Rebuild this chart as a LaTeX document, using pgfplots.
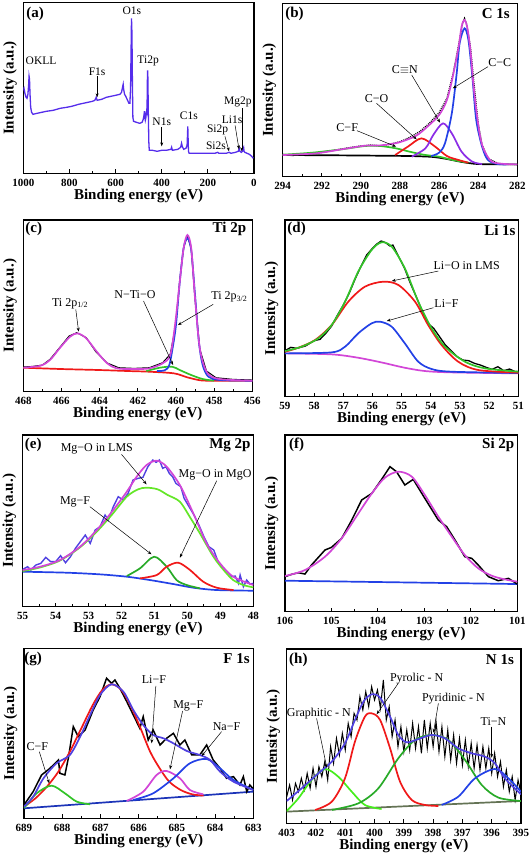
\documentclass[border=0pt]{standalone}
\usepackage{fontspec}
\setmainfont{Liberation Serif}
\usepackage{pgfplots}
\pgfplotsset{compat=1.18}
\usetikzlibrary{arrows.meta}
\definecolor{survey}{RGB}{85,45,235}
\definecolor{mag}{RGB}{210,70,215}
\definecolor{bl}{RGB}{35,65,230}
\definecolor{pur}{RGB}{140,45,230}
\definecolor{rd}{RGB}{240,25,25}
\definecolor{gr}{RGB}{50,195,40}
\definecolor{lgr}{RGB}{100,230,40}
\definecolor{dgr}{RGB}{40,170,40}
\definecolor{ind}{RGB}{80,65,225}
\definecolor{olv}{RGB}{100,115,85}
\pgfplotsset{
 xps/.style={
  scale only axis, anchor=south west, x dir=reverse,
  axis line style={line width=1.5pt},
  ytick=\empty, xtick pos=left, tick align=inside,
  major tick length=4pt, minor tick length=2.5pt,
  every tick/.style={black,line width=0.9pt},
  minor x tick num=1,
  xlabel={Binding energy (eV)}, ylabel={Intensity (a.u.)},
  label style={font=\fontsize{15}{15}\selectfont\bfseries},
  xlabel style={at={(rel axis cs:0.5,0)},anchor=north,yshift=-12pt},
  ylabel style={at={(rel axis cs:0,0.5)},anchor=south,yshift=3pt},
  xticklabel style={font=\fontsize{11}{11}\selectfont\bfseries, yshift=-2pt},
  /pgf/number format/assume math mode=true,
  /pgf/number format/1000 sep={},
 },
 c/.style={line width=1.7pt, smooth, mark=none},
 d/.style={line width=1.0pt, mark=none},
}
\tikzset{
 lab/.style={font=\fontsize{12}{13}\selectfont, inner sep=1pt},
 laba/.style={font=\fontsize{11.5}{12}\selectfont, inner sep=0.5pt},
 ttl/.style={font=\fontsize{15}{15}\selectfont\bfseries, inner sep=1pt},
 arr/.style={-{Stealth[length=4pt,width=3pt]}, line width=0.5pt},
}
\begin{document}
\begin{tikzpicture}
\useasboundingbox (0pt,0pt) rectangle (530pt,-860pt);
% ---------------- (a)
\begin{axis}[xps, at={(23.3pt,-173.3pt)}, width=230.7pt, height=170.6pt,
  xmin=0, xmax=1000, ymin=0, ymax=170.6, xtick={0,200,...,1000}]
\addplot[survey, line width=1.3pt, mark=none] coordinates {
(1000,83)(997,85)(993,80)(988,76)(984,75)(980,79)(977,88)(975,97)(973,94)(971,80)(968,66)(964,61)(958,59)(940,60)(920,61)(900,62)(870,63)(840,65)(812,66)(790,67)(760,69)(740,70)(720,71)(700,72)(690,73)(684,76)(680,73)(660,74)(640,76)(620,77)(600,78)(581,79)(574,81)(570,86)(567,89)(565,84)(561,79)(556,77)(550,74)(546,72)(542,70)(538,70)(535,85)(533,120)(531,155)(529,140)(527,90)(525,56)(522,52)(510,51)(495,50)(485,51)(480,54)(477,58)(475,62)(473,56)(471,53)(469,55)(467,62)(465,58)(463,75)(462,95)(461,103)(460,96)(458,60)(456,32)(454,23)(440,23)(420,22)(400,23)(380,23)(360,24)(357,26)(354,23)(330,24)(318,26)(314,30)(311,27)(305,24)(295,25)(290,28)(288,40)(287,47)(286,38)(284,22)(281,20)(260,20)(230,20)(200,20)(170,20)(157,21)(152,20)(120,20)(108,21)(100,20)(80,21)(68,22)(64,25)(61,22)(55,21)(50,22)(47,25)(45,26)(43,22)(40,21)(30,20)(20,19)(10,17)(3,15)};
\node[ttl] at (949,159) {(a)};
\node[laba] at (923,113) {OKLL};
\node[laba] at (680,102) {F1s};
\draw[arr] (680,97) -- (680,76);
\node[laba] at (529,163) {O1s};
\node[laba] at (459,112) {Ti2p};
\node[laba] at (400,52) {N1s};
\draw[arr] (400,46) -- (400,27);
\node[laba] at (282,58) {C1s};
\node[laba] at (70,71) {Mg2p};
\draw[arr] (53,65) -- (53,22);
\node[laba] at (95,54) {Li1s};
\draw[arr] (82,48) -- (65,24);
\node[laba] at (158,43) {Si2p};
\draw[arr] (126,37) -- (108,22);
\node[laba] at (165,28) {Si2s};
\end{axis}
% ---------------- (b)
\begin{axis}[xps, at={(282.7pt,-176.7pt)}, width=234.6pt, height=173.4pt,
  xmin=282, xmax=294, ymin=0, ymax=520, xtick={282,284,...,294}]
\addplot[c, black] coordinates {(294,65)(291,64)(289,63)(287.5,62)(286.5,60)(286,57)(285.5,52)(285,46)(284.5,41)(284,38)(283,37)(282,37)};
\addplot[d, black, densely dotted, line width=1.3pt] coordinates {(294,67)(293.5,63)(293,68)(292.5,70)(292,73)(291.5,78)(291,83)(290.5,88)(290,92)(289.5,95)(289,92)(288.5,98)(288,105)(287.5,118)(287,135)(286.5,160)(286,192)(285.6,235)(285.3,305)(285,395)(284.8,460)(284.7,475)(284.6,460)(284.4,390)(284.2,270)(284,160)(283.8,95)(283.5,55)(283,40)(282.5,37)(282,36)};
\addplot[c, gr] coordinates {(294,66)(292.5,72)(291,82)(289.8,92)(289,92)(288.2,85)(287.5,75)(286.8,66)(286,60)(285.3,50)(284.5,42)};
\addplot[c, rd] coordinates {(288.25,65)(287.6,90)(286.9,115)(286.2,90)(285.6,62)(285,50)(284.5,42)};
\addplot[c, pur] coordinates {(287.4,60)(286.7,85)(286.3,125)(285.8,160)(285.35,130)(284.85,75)(284.3,45)(283.8,38)};
\addplot[c, bl] coordinates {(286.4,62)(286,72)(285.7,100)(285.35,190)(285.1,310)(284.95,400)(284.7,445)(284.5,410)(284.3,300)(284.1,170)(283.8,90)(283.5,50)(283,38)(282.5,37)};
\addplot[c, mag] coordinates {(294,65)(292.3,70)(291,82)(289.8,93)(289,94)(288.1,102)(287.2,122)(286.6,150)(286,185)(285.6,230)(285.3,300)(285,390)(284.85,450)(284.7,470)(284.55,445)(284.4,380)(284.25,280)(284.1,200)(283.9,120)(283.7,80)(283.3,45)(282.6,38)(282,37)};
\node[ttl] at (293.4,488) {(b)};
\node[ttl] at (283.1,488) {C 1s};
\node[lab] at (282.9,342) {C−C};
\draw[arr] (283.5,330) -- (285.3,265);
\node[lab] at (287.75,320) {C$\equiv$N};
\draw[arr] (287.4,305) -- (285.95,162);
\node[lab] at (289.2,235) {C−O};
\draw[arr] (289.2,220) -- (287.15,112);
\node[lab] at (290.7,148) {C−F};
\draw[arr] (290.2,138) -- (288.2,90);
\end{axis}
% ---------------- (c)
\begin{axis}[xps, at={(23.3pt,-391.7pt)}, width=229pt, height=171.7pt,
  xmin=456, xmax=468, ymin=0, ymax=515, xtick={456,458,...,468}]
\addplot[c, rd] coordinates {(468,72)(466,68)(464,65)(462.5,62)(461.4,60)(460.1,55)(459.4,43)(458.7,34)(458,33)(456,33)};
\addplot[d, black] coordinates {(468,74)(467.5,76)(467,80)(466.6,97)(466.1,132)(465.6,167)(465.2,177)(464.7,162)(464.2,120)(463.6,86)(463,72)(462.2,70)(461.4,72)(460.7,87)(460.3,112)(460,205)(459.8,335)(459.6,432)(459.4,468)(459.2,428)(459,278)(458.75,128)(458.4,62)(457.9,42)(457,37)(456,35)};
\addplot[c, gr] coordinates {(461.55,62)(460.85,72)(460.2,75)(459.8,65)(459.2,50)(458.6,38)(458,33)};
\addplot[c, bl] coordinates {(461,62)(460.6,64)(460.35,80)(460.15,140)(460,200)(459.8,330)(459.6,430)(459.4,460)(459.2,425)(459,290)(458.8,150)(458.6,80)(458.3,45)(457.7,35)(456,33)};
\addplot[c, mag] coordinates {(468,72)(467.1,78)(466.6,95)(466.1,130)(465.55,165)(465.15,175)(464.7,160)(464.15,120)(463.6,85)(463.1,70)(462.2,68)(461.4,70)(460.7,85)(460.3,110)(460.05,200)(459.8,330)(459.6,430)(459.4,470)(459.2,430)(459,280)(458.75,130)(458.4,60)(457.9,40)(457,35)(456,33)};
\node[ttl] at (467.45,488) {(c)};
\node[ttl] at (457.2,488) {Ti 2p};
\node[lab] at (465.55,265) {Ti 2p\textsubscript{1/2}};
\draw[arr] (465.25,247) -- (465.1,180);
\node[lab] at (462.15,290) {N−Ti−O};
\draw[arr] (461.7,272) -- (460.15,80);
\node[lab] at (457.2,285) {Ti 2p\textsubscript{3/2}};
\draw[arr] (458.05,262) -- (459.9,200);
\end{axis}
% ---------------- (d)
\begin{axis}[xps, at={(285pt,-396.7pt)}, width=233.3pt, height=176.7pt,
  xmin=51, xmax=59, ymin=0, ymax=530, xtick={51,...,59}]
\addplot[c, mag] coordinates {(59,130)(57.4,127)(56.5,117)(55.7,103)(54.9,87)(54.2,77)(53.3,73)(51,70)};
\addplot[d, black, line width=1.3pt] coordinates {(59,138)(58.8,148)(58.6,145)(58.3,152)(58,168)(57.8,172)(57.6,190)(57.4,212)(57.2,245)(57,275)(56.8,310)(56.6,352)(56.4,390)(56.2,425)(56,445)(55.85,458)(55.7,467)(55.55,462)(55.4,452)(55.3,455)(55.1,420)(54.9,385)(54.7,340)(54.5,300)(54.3,258)(54.1,220)(53.9,205)(53.7,180)(53.5,155)(53.3,138)(53.1,120)(52.9,110)(52.7,108)(52.5,100)(52.3,95)(52.1,88)(51.9,82)(51.7,90)(51.5,78)(51.3,83)(51.1,75)(51,76)};
\addplot[c, bl] coordinates {(59,130)(57.4,133)(56.94,150)(56.49,190)(56.03,220)(55.74,225)(55.34,210)(54.89,160)(54.43,105)(53.97,83)(53.29,75)(51,71)};
\addplot[c, rd] coordinates {(59,135)(58.54,147)(57.97,170)(57.4,215)(56.83,285)(56.26,330)(55.63,345)(55.11,335)(54.54,285)(54.09,215)(53.63,155)(53.06,105)(52.37,80)(51,72)};
\addplot[c, gr] coordinates {(59,137)(58.43,150)(57.86,175)(57.4,215)(56.94,285)(56.49,375)(56.03,440)(55.69,463)(55.34,450)(54.89,385)(54.43,285)(53.97,205)(53.51,150)(52.83,105)(52.14,85)(51,75)};
\node[ttl] at (58.6,503) {(d)};
\node[ttl] at (51.63,500) {Li 1s};
\node[lab] at (52.77,393) {Li−O in LMS};
\draw[arr] (53.74,377) -- (55.34,347);
\node[lab] at (53.46,280) {Li−F};
\draw[arr] (53.91,267) -- (55.51,227);
\end{axis}
% ---------------- (e)
\begin{axis}[xps, at={(22.7pt,-606.7pt)}, width=230.6pt, height=171.7pt,
  xmin=48, xmax=55, ymin=0, ymax=515, xtick={48,...,55}]
\addplot[c, bl] coordinates {(55,105)(53.66,102)(52.65,97)(51.84,90)(51.14,80)(50.43,68)(49.82,57)(49.11,50)(48,48)};
\addplot[line width=1.4pt, ind, mark=none] coordinates {(55,112)(54.85,120)(54.75,110)(54.6,125)(54.45,130)(54.3,148)(54.15,135)(54.0,135)(53.85,153)(53.7,132)(53.55,150)(53.4,175)(53.25,195)(53.1,215)(52.95,190)(52.8,230)(52.65,240)(52.5,275)(52.4,260)(52.25,300)(52.1,330)(51.95,320)(51.8,340)(51.65,380)(51.5,385)(51.35,388)(51.2,420)(51.05,440)(50.95,433)(50.85,440)(50.75,415)(50.65,420)(50.55,400)(50.45,390)(50.35,370)(50.2,360)(50.1,325)(49.95,300)(49.8,275)(49.65,245)(49.5,210)(49.35,180)(49.2,170)(49.05,130)(48.9,115)(48.75,100)(48.65,90)(48.55,92)(48.45,70)(48.4,95)(48.3,60)(48.2,80)(48.1,68)(48,70)};
\addplot[c, lgr] coordinates {(55,107)(54.5,117)(53.9,137)(53.3,175)(52.8,220)(52.3,275)(51.84,330)(51.5,352)(51.24,357)(50.9,352)(50.6,335)(50.23,315)(49.9,265)(49.62,220)(49.21,150)(48.9,110)(48.61,80)(48.3,65)(48,58)};
\addplot[c, dgr] coordinates {(51.84,92)(51.44,115)(51.01,150)(50.63,120)(50.33,80)(50.02,65)(49.62,55)};
\addplot[c, rd] coordinates {(51.44,85)(50.93,95)(50.63,120)(50.28,132)(49.92,110)(49.52,75)(49.11,57)(48.6,50)};
\addplot[c, mag] coordinates {(55,110)(54.47,120)(53.87,140)(53.26,180)(52.75,230)(52.25,290)(51.84,345)(51.54,390)(51.24,425)(50.93,438)(50.63,420)(50.23,365)(49.82,280)(49.42,190)(49.01,130)(48.61,90)(48,65)};
\node[ttl] at (54.68,485) {(e)};
\node[ttl] at (48.71,485) {Mg 2p};
\node[lab] at (52.75,475) {Mg−O in LMS};
\draw[arr] (52.0,457) -- (51.24,367);
\node[lab] at (49.16,395) {Mg−O in MgO};
\draw[arr] (49.11,378) -- (50.23,147);
\node[lab] at (53.41,315) {Mg−F};
\draw[arr] (52.96,300) -- (51.09,157);
\end{axis}
% ---------------- (f)
\begin{axis}[xps, at={(285pt,-611.7pt)}, width=232.3pt, height=176.7pt,
  xmin=101, xmax=106, ymin=0, ymax=530, xtick={101,...,106}]
\addplot[c, bl] coordinates {(106,93)(101,83)};
\addplot[line width=1.5pt, black, mark=none] coordinates {(106,105)(105.86,112)(105.71,117)(105.57,113)(105.43,140)(105.14,185)(105,193)(104.78,220)(104.57,273)(104.35,335)(104.13,355)(103.92,397)(103.74,435)(103.6,420)(103.42,380)(103.24,397)(102.99,340)(102.7,275)(102.52,255)(102.34,215)(102.13,165)(101.98,160)(101.84,140)(101.62,105)(101.41,93)(101.19,100)(101,83)};
\addplot[c, mag] coordinates {(106,107)(105.57,125)(105.14,165)(104.78,220)(104.42,295)(104.13,355)(103.85,402)(103.56,420)(103.27,405)(102.99,350)(102.7,285)(102.41,225)(102.13,170)(101.84,130)(101.55,108)(101.27,97)(101,90)};
\node[ttl] at (105.75,500) {(f)};
\node[ttl] at (101.41,500) {Si 2p};
\end{axis}
% ---------------- (g)
\begin{axis}[xps, at={(24pt,-818.3pt)}, width=229.3pt, height=170pt,
  xmin=683, xmax=689, ymin=0, ymax=510, xtick={683,...,689}]
\addplot[c, bl!80!black] coordinates {(689,30)(683,80)};
\addplot[line width=1.5pt, black, mark=none] coordinates {(689,40)(688.76,80)(688.54,130)(688.32,150)(688.1,175)(688.06,135)(687.93,130)(687.84,180)(687.71,275)(687.58,245)(687.4,265)(687.19,325)(687.01,365)(686.84,420)(686.71,405)(686.62,415)(686.49,390)(686.31,350)(686.14,310)(685.97,270)(685.88,305)(685.75,235)(685.62,265)(685.44,220)(685.27,240)(685.09,255)(684.92,220)(684.79,235)(684.61,190)(684.4,190)(684.22,220)(684.05,175)(683.87,150)(683.7,120)(683.52,125)(683.35,100)(683.26,125)(683.17,80)(683.09,100)(683,88)};
\addplot[c, rd] coordinates {(689,35)(688.7,60)(688.4,95)(688.1,140)(687.8,200)(687.5,270)(687.2,340)(686.95,385)(686.71,402)(686.45,385)(686.2,335)(685.95,270)(685.7,200)(685.45,150)(685.2,110)(684.9,85)(684.6,72)(684.3,68)};
\addplot[c, gr] coordinates {(689,32)(688.93,40)(688.67,75)(688.28,98)(687.93,75)(687.62,50)(687.27,42)};
\addplot[c, mag] coordinates {(686.31,52)(685.88,80)(685.53,130)(685.27,142)(684.92,120)(684.66,85)(684.31,72)};
\addplot[c, bl] coordinates {(686.14,55)(685.62,75)(685.09,120)(684.66,165)(684.22,178)(683.87,150)(683.52,115)(683,85)};
\addplot[c, ind] coordinates {(689,35)(688.76,65)(688.49,120)(688.15,165)(687.8,190)(687.53,245)(687.27,310)(687.01,370)(686.71,402)(686.4,380)(686.14,325)(685.88,280)(685.62,250)(685.35,240)(685.09,225)(684.74,202)(684.4,190)(684.13,175)(683.87,140)(683.52,110)(683,85)};
\node[ttl] at (688.76,478) {(g)};
\node[ttl] at (683.44,478) {F 1s};
\node[lab] at (688.65,215) {C−F};
\draw[arr] (688.6,200) -- (688.34,105);
\node[lab] at (685.6,415) {Li−F};
\draw[arr] (685.55,397) -- (685.66,225);
\node[lab] at (684.7,337) {Mg−F};
\draw[arr] (684.85,322) -- (685.18,147);
\node[lab] at (683.7,275) {Na−F};
\draw[arr] (683.83,260) -- (684.35,187);
\end{axis}
% ---------------- (h)
\begin{axis}[xps, at={(286.7pt,-823.3pt)}, width=234.3pt, height=174.3pt,
  xmin=395, xmax=403, ymin=0, ymax=523, xtick={395,...,403}]
\addplot[c, olv] coordinates {(403,35)(395,67)};
\addplot[line width=1.0pt, black, mark=none] coordinates {(403.0,80)(402.9,115)(402.8,70)(402.7,120)(402.6,95)(402.5,135)(402.4,100)(402.3,150)(402.2,105)(402.1,165)(402.0,110)(401.9,170)(401.8,140)(401.7,185)(401.6,130)(401.5,230)(401.4,180)(401.3,255)(401.2,205)(401.1,270)(401.0,220)(400.9,300)(400.8,260)(400.7,330)(400.6,310)(400.5,380)(400.4,340)(400.3,395)(400.2,350)(400.1,410)(400.0,370)(399.9,400)(399.8,345)(399.7,430)(399.6,310)(399.5,350)(399.4,260)(399.3,310)(399.2,230)(399.1,290)(399.0,215)(398.9,280)(398.8,220)(398.7,300)(398.6,225)(398.5,290)(398.4,210)(398.3,310)(398.2,225)(398.1,300)(398.0,230)(397.9,305)(397.8,215)(397.7,290)(397.6,200)(397.5,280)(397.4,190)(397.3,265)(397.2,180)(397.1,255)(397.0,175)(396.9,250)(396.8,170)(396.7,240)(396.6,165)(396.5,235)(396.4,160)(396.3,230)(396.2,165)(396.1,225)(396.0,150)(395.9,210)(395.8,140)(395.7,185)(395.6,110)(395.5,160)(395.4,95)(395.3,140)(395.2,70)(395.1,130)(395.0,90)};
\addplot[c, lgr!70!green] coordinates {(403,37)(402.6,75)(402.15,130)(401.69,163)(401.24,140)(400.78,95)(400.33,55)(399.76,43)};
\addplot[c, rd] coordinates {(402.03,40)(401.46,65)(401.01,135)(400.67,245)(400.33,320)(400.1,330)(399.81,310)(399.47,225)(399.13,125)(398.73,70)(398.28,55)(397.82,52)};
\addplot[c, dgr] coordinates {(401.46,40)(400.55,60)(399.87,105)(399.19,195)(398.62,250)(398.05,265)(397.48,250)(396.91,190)(396.34,115)(395.77,77)(395,67)};
\addplot[c, bl] coordinates {(397.71,55)(397.14,80)(396.57,135)(395.89,163)(395.43,135)(395,95)};
\addplot[c, ind] coordinates {(403,67)(402.49,105)(401.92,150)(401.46,185)(401.01,240)(400.67,310)(400.38,365)(400.1,387)(399.81,377)(399.47,320)(399.19,265)(398.9,243)(398.5,253)(398.05,265)(397.6,255)(397.14,225)(396.68,210)(396.23,200)(395.89,180)(395.55,135)(395,87)};
\node[ttl] at (402.6,490) {(h)};
\node[ttl] at (395.72,490) {N 1s};
\node[lab] at (398.56,435) {Pyrolic - N};
\draw[arr] (399.19,420) -- (399.93,327);
\node[lab] at (401.9,330) {Graphitic - N};
\draw[arr] (401.98,315) -- (401.63,167);
\node[lab] at (397.31,375) {Pyridinic - N};
\draw[arr] (397.82,360) -- (397.99,272);
\node[lab] at (395.94,305) {Ti−N};
\draw[arr] (396.0,290) -- (396.0,197);
\end{axis}
\end{tikzpicture}
\end{document}
